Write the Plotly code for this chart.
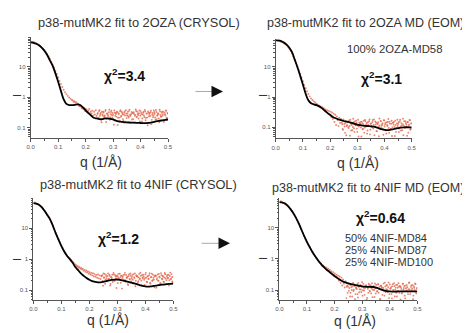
import plotly.graph_objects as go

# ---------------- data ----------------
q_data = [0.005, 0.01, 0.015, 0.02, 0.025, 0.03, 0.035, 0.04, 0.045, 0.05,
          0.055, 0.06, 0.065, 0.07, 0.075, 0.08, 0.085, 0.09, 0.095, 0.1,
          0.105, 0.11, 0.115, 0.12, 0.125, 0.13, 0.135, 0.14, 0.145, 0.15,
          0.153, 0.156, 0.159, 0.162, 0.165, 0.168, 0.171, 0.174, 0.177, 0.18,
          0.183, 0.186, 0.189, 0.192, 0.195, 0.198, 0.201, 0.204, 0.207, 0.21,
          0.213, 0.216, 0.219, 0.222, 0.225, 0.228, 0.231, 0.234, 0.237, 0.24,
          0.243, 0.246, 0.249, 0.252, 0.255, 0.258, 0.261, 0.264, 0.267, 0.27,
          0.273, 0.276, 0.279, 0.282, 0.285, 0.288, 0.291, 0.294, 0.297, 0.3,
          0.303, 0.306, 0.309, 0.312, 0.315, 0.318, 0.321, 0.324, 0.327, 0.33,
          0.333, 0.336, 0.339, 0.342, 0.345, 0.348, 0.351, 0.354, 0.357, 0.36,
          0.363, 0.366, 0.369, 0.372, 0.375, 0.378, 0.381, 0.384, 0.387, 0.39,
          0.393, 0.396, 0.399, 0.402, 0.405, 0.408, 0.411, 0.414, 0.417, 0.42,
          0.423, 0.426, 0.429, 0.432, 0.435, 0.438, 0.441, 0.444, 0.447, 0.45,
          0.453, 0.456, 0.459, 0.462, 0.465, 0.468, 0.471, 0.474, 0.477, 0.48,
          0.483, 0.486, 0.489, 0.492, 0.495, 0.498]

# second (interleaved) block of high-q measurements
q_data_b = [0.2445, 0.2475, 0.2505, 0.2535, 0.2565, 0.2595, 0.2625, 0.2655, 0.2685, 0.2715,
            0.2745, 0.2775, 0.2805, 0.2835, 0.2865, 0.2895, 0.2925, 0.2955, 0.2985, 0.3015,
            0.3045, 0.3075, 0.3105, 0.3135, 0.3165, 0.3195, 0.3225, 0.3255, 0.3285, 0.3315,
            0.3345, 0.3375, 0.3405, 0.3435, 0.3465, 0.3495, 0.3525, 0.3555, 0.3585, 0.3615,
            0.3645, 0.3675, 0.3705, 0.3735, 0.3765, 0.3795, 0.3825, 0.3855, 0.3885, 0.3915,
            0.3945, 0.3975, 0.4005, 0.4035, 0.4065, 0.4095, 0.4125, 0.4155, 0.4185, 0.4215,
            0.4245, 0.4275, 0.4305, 0.4335, 0.4365, 0.4395, 0.4425, 0.4455, 0.4485, 0.4515,
            0.4545, 0.4575, 0.4605, 0.4635, 0.4665, 0.4695, 0.4725, 0.4755, 0.4785, 0.4815,
            0.4845, 0.4875, 0.4905, 0.4935, 0.4965, 0.4995]

i_2oza_crysol = [66, 64, 62, 59, 55, 51, 47, 42, 38.5, 35, 30, 26, 21.5, 18, 14.5,
                 11.8, 9.3, 7.3, 5.7, 4.4, 3.4, 2.7, 2.15, 1.75, 1.45, 1.25, 1.1, 0.98, 0.88, 0.8,
                 0.78, 0.70, 0.74, 0.66, 0.69, 0.58, 0.62, 0.57, 0.50, 0.53, 0.49, 0.43, 0.47, 0.40, 0.44,
                 0.35, 0.41, 0.39, 0.33, 0.36, 0.41, 0.30, 0.34, 0.29, 0.36, 0.25, 0.33, 0.27, 0.37, 0.24,
                 0.28, 0.20, 0.35, 0.245, 0.305, 0.15, 0.27, 0.33, 0.22, 0.25,
                 0.38, 0.19, 0.29, 0.24, 0.32, 0.18, 0.275, 0.36, 0.215, 0.26,
                 0.125, 0.31, 0.30, 0.23, 0.335, 0.21, 0.28, 0.17, 0.37, 0.245,
                 0.305, 0.19, 0.27, 0.34, 0.155, 0.29, 0.25, 0.33, 0.215, 0.39,
                 0.24, 0.275, 0.185, 0.30, 0.32, 0.14, 0.26, 0.35, 0.23, 0.28,
                 0.20, 0.365, 0.245, 0.305, 0.16, 0.27, 0.33, 0.22, 0.335, 0.21,
                 0.29, 0.12, 0.31, 0.275, 0.24, 0.36, 0.18, 0.30, 0.25, 0.32,
                 0.215, 0.38, 0.19, 0.26, 0.28, 0.15, 0.34, 0.23, 0.305, 0.245,
                 0.33, 0.17, 0.275, 0.365, 0.21, 0.30]
i_2oza_crysol_b = [0.303, 0.213, 0.37, 0.28, 0.175, 0.333, 0.25, 0.31, 0.235, 0.348,
                   0.153, 0.288, 0.265, 0.198, 0.385, 0.22, 0.325, 0.258, 0.303, 0.183,
                   0.363, 0.243, 0.28, 0.318, 0.123, 0.295, 0.213, 0.34, 0.228, 0.333,
                   0.273, 0.168, 0.31, 0.25, 0.37, 0.205, 0.288, 0.235, 0.355, 0.265,
                   0.145, 0.325, 0.303, 0.19, 0.28, 0.243, 0.393, 0.22, 0.333, 0.258,
                   0.295, 0.16, 0.348, 0.273, 0.198, 0.31, 0.25, 0.378, 0.175, 0.288,
                   0.213, 0.34, 0.235, 0.303, 0.318, 0.13, 0.265, 0.22, 0.363, 0.28,
                   0.183, 0.325, 0.243, 0.295, 0.198, 0.385, 0.258, 0.228, 0.333, 0.273,
                   0.153, 0.31, 0.25, 0.355, 0.205, 0.288]

i_2oza_eom = [72, 71, 69, 66, 63, 59, 55, 50, 45, 39, 33, 27, 21.5, 17, 13,
              10, 7.6, 5.8, 4.4, 3.3, 2.5, 1.95, 1.55, 1.25, 1.05, 0.9, 0.8, 0.72, 0.66, 0.6,
              0.56, 0.50, 0.53, 0.47, 0.49, 0.43, 0.46, 0.40, 0.43, 0.36, 0.39, 0.33, 0.37, 0.29, 0.35,
              0.26, 0.33, 0.22, 0.31, 0.19, 0.28, 0.15, 0.26, 0.12, 0.23, 0.17, 0.11, 0.21, 0.14, 0.19,
              0.143, 0.089, 0.183, 0.129, 0.066, 0.161, 0.111, 0.147, 0.102, 0.17,
              0.053, 0.134, 0.12, 0.08, 0.192, 0.093, 0.156, 0.116, 0.143, 0.071,
              0.179, 0.107, 0.129, 0.152, 0.05, 0.138, 0.089, 0.165, 0.098, 0.161,
              0.125, 0.062, 0.147, 0.111, 0.183, 0.084, 0.134, 0.102, 0.174, 0.12,
              0.055, 0.156, 0.143, 0.075, 0.129, 0.107, 0.197, 0.093, 0.161, 0.116,
              0.138, 0.057, 0.17, 0.125, 0.08, 0.147, 0.111, 0.188, 0.066, 0.134,
              0.089, 0.165, 0.102, 0.143, 0.152, 0.052, 0.12, 0.093, 0.179, 0.129,
              0.071, 0.156, 0.107, 0.138, 0.08, 0.192, 0.116, 0.098, 0.161, 0.125,
              0.053, 0.147, 0.111, 0.174, 0.084, 0.134]
i_2oza_eom_b = [0.127, 0.083, 0.163, 0.107, 0.139, 0.055, 0.119, 0.151, 0.095, 0.111,
                0.179, 0.079, 0.131, 0.103, 0.147, 0.071, 0.123, 0.167, 0.091, 0.115,
                0.05, 0.143, 0.135, 0.099, 0.155, 0.087, 0.127, 0.067, 0.175, 0.107,
                0.139, 0.079, 0.119, 0.159, 0.059, 0.131, 0.111, 0.151, 0.091, 0.183,
                0.103, 0.123, 0.075, 0.135, 0.147, 0.051, 0.115, 0.163, 0.099, 0.127,
                0.083, 0.171, 0.107, 0.139, 0.063, 0.119, 0.151, 0.095, 0.155, 0.087,
                0.131, 0.052, 0.143, 0.123, 0.103, 0.167, 0.071, 0.135, 0.111, 0.147,
                0.091, 0.179, 0.079, 0.115, 0.127, 0.055, 0.159, 0.099, 0.139, 0.107,
                0.151, 0.067, 0.123, 0.171, 0.087, 0.135]

i_4nif_crysol = [68, 64, 61, 57, 53, 48, 42, 37, 32, 27, 23, 19, 15.5, 12.2, 9.4,
                 7.1, 5.6, 4.4, 3.5, 2.8, 2.25, 1.85, 1.55, 1.35, 1.18, 1.05, 0.95, 0.85, 0.76, 0.68,
                 0.64, 0.57, 0.60, 0.53, 0.56, 0.49, 0.52, 0.46, 0.49, 0.42, 0.45, 0.39, 0.43, 0.37, 0.40,
                 0.34, 0.38, 0.32, 0.36, 0.30, 0.35, 0.28, 0.33, 0.27, 0.31, 0.25, 0.32, 0.24, 0.30, 0.23,
                 0.285, 0.306, 0.138, 0.25, 0.334, 0.222, 0.271, 0.194, 0.348, 0.236,
                 0.292, 0.159, 0.257, 0.313, 0.215, 0.32, 0.201, 0.278, 0.117, 0.299,
                 0.264, 0.229, 0.341, 0.173, 0.285, 0.243, 0.306, 0.208, 0.362, 0.187,
                 0.25, 0.271, 0.145, 0.327, 0.222, 0.292, 0.236, 0.313, 0.166, 0.264,
                 0.348, 0.201, 0.285, 0.271, 0.194, 0.334, 0.236, 0.292, 0.145, 0.257,
                 0.313, 0.215, 0.243, 0.362, 0.187, 0.278, 0.229, 0.306, 0.173, 0.264,
                 0.341, 0.208, 0.25, 0.124, 0.299, 0.285, 0.222, 0.32, 0.201, 0.271,
                 0.166, 0.355, 0.236, 0.292, 0.187, 0.257, 0.327, 0.152, 0.278, 0.243,
                 0.313, 0.208, 0.369, 0.229, 0.264, 0.18]
i_4nif_crysol_b = [0.28, 0.196, 0.343, 0.259, 0.161, 0.308, 0.231, 0.287, 0.217, 0.322,
                   0.14, 0.266, 0.245, 0.182, 0.357, 0.203, 0.301, 0.238, 0.28, 0.168,
                   0.336, 0.224, 0.259, 0.294, 0.112, 0.273, 0.196, 0.315, 0.21, 0.308,
                   0.252, 0.154, 0.287, 0.231, 0.343, 0.189, 0.266, 0.217, 0.329, 0.245,
                   0.133, 0.301, 0.28, 0.175, 0.259, 0.224, 0.364, 0.203, 0.308, 0.238,
                   0.273, 0.147, 0.322, 0.252, 0.182, 0.287, 0.231, 0.35, 0.161, 0.266,
                   0.196, 0.315, 0.217, 0.28, 0.294, 0.119, 0.245, 0.203, 0.336, 0.259,
                   0.168, 0.301, 0.224, 0.273, 0.182, 0.357, 0.238, 0.21, 0.308, 0.252,
                   0.14, 0.287, 0.231, 0.329, 0.189, 0.266]

i_4nif_eom = [70, 65, 62, 58, 54, 50, 45, 40, 35, 30, 25.5, 21, 17.2, 13.8, 11,
              8.7, 6.8, 5.4, 4.3, 3.5, 2.9, 2.4, 2.0, 1.68, 1.42, 1.22, 1.05, 0.92, 0.81, 0.72,
              0.64, 0.58, 0.61, 0.54, 0.56, 0.49, 0.52, 0.45, 0.48, 0.41, 0.44, 0.37, 0.40, 0.33, 0.37,
              0.30, 0.34, 0.26, 0.31, 0.24, 0.29, 0.20, 0.27, 0.17, 0.25, 0.14, 0.22, 0.16, 0.12, 0.19,
              0.055, 0.138, 0.13, 0.094, 0.15, 0.082, 0.122, 0.062, 0.17, 0.102,
              0.134, 0.074, 0.114, 0.154, 0.058, 0.126, 0.106, 0.146, 0.086, 0.178,
              0.098, 0.118, 0.07, 0.13, 0.142, 0.056, 0.11, 0.158, 0.094, 0.122,
              0.078, 0.166, 0.102, 0.134, 0.06, 0.114, 0.146, 0.09, 0.15, 0.082,
              0.126, 0.052, 0.138, 0.118, 0.098, 0.162, 0.066, 0.13, 0.106, 0.142,
              0.086, 0.174, 0.074, 0.11, 0.122, 0.054, 0.154, 0.094, 0.134, 0.102,
              0.146, 0.062, 0.118, 0.166, 0.082, 0.13, 0.122, 0.078, 0.158, 0.102,
              0.134, 0.054, 0.114, 0.146, 0.09, 0.106, 0.174, 0.074, 0.126, 0.098,
              0.142, 0.066, 0.118, 0.162, 0.086, 0.11]
i_4nif_eom_b = [0.127, 0.081, 0.161, 0.116, 0.062, 0.142, 0.1, 0.131, 0.093, 0.15,
                0.051, 0.119, 0.108, 0.074, 0.169, 0.085, 0.138, 0.104, 0.127, 0.066,
                0.157, 0.097, 0.116, 0.135, 0.05, 0.123, 0.081, 0.146, 0.089, 0.142,
                0.112, 0.059, 0.131, 0.1, 0.161, 0.078, 0.119, 0.093, 0.154, 0.108,
                0.05, 0.138, 0.127, 0.07, 0.116, 0.097, 0.173, 0.085, 0.142, 0.104,
                0.123, 0.055, 0.15, 0.112, 0.074, 0.131, 0.1, 0.165, 0.062, 0.119,
                0.081, 0.146, 0.093, 0.127, 0.135, 0.05, 0.108, 0.085, 0.157, 0.116,
                0.066, 0.138, 0.097, 0.123, 0.074, 0.169, 0.104, 0.089, 0.142, 0.112,
                0.051, 0.131, 0.1, 0.154, 0.078, 0.119]

q_fit = [0.0, 0.01, 0.02, 0.03, 0.04, 0.05, 0.06, 0.07, 0.08, 0.09,
         0.1, 0.11, 0.12, 0.13, 0.14, 0.15, 0.16, 0.17, 0.18, 0.19,
         0.2, 0.21, 0.22, 0.23, 0.24, 0.25, 0.26, 0.27, 0.28, 0.29,
         0.3, 0.31, 0.32, 0.33, 0.34, 0.35, 0.36, 0.37, 0.38, 0.39,
         0.4, 0.41, 0.42, 0.43, 0.44, 0.45, 0.46, 0.47, 0.48, 0.49, 0.5]

fit_2oza_crysol = [62, 60, 56, 50, 42, 33, 24, 16, 10.5, 6,
                   3.2, 1.6, 0.85, 0.6, 0.55, 0.55, 0.56, 0.58, 0.55, 0.46,
                   0.37, 0.3, 0.25, 0.21, 0.2, 0.19, 0.19, 0.2, 0.2, 0.195,
                   0.185, 0.17, 0.16, 0.155, 0.15, 0.148, 0.147, 0.146, 0.145, 0.143,
                   0.142, 0.14, 0.14, 0.142, 0.148, 0.155, 0.162, 0.168, 0.174, 0.18, 0.185]

fit_2oza_eom = [75, 73, 69, 62, 53, 42, 30, 17, 9.5, 5,
                2.6, 1.3, 0.78, 0.62, 0.57, 0.54, 0.49, 0.43, 0.36, 0.3,
                0.26, 0.22, 0.2, 0.185, 0.172, 0.162, 0.155, 0.148, 0.14, 0.13,
                0.123, 0.118, 0.114, 0.112, 0.11, 0.108, 0.105, 0.1, 0.093, 0.087,
                0.083, 0.081, 0.082, 0.086, 0.091, 0.095, 0.098, 0.1, 0.101, 0.1, 0.099]

fit_4nif_crysol = [65, 63, 58, 48, 37, 27, 19.5, 12, 7, 4.3,
                   2.7, 1.8, 1.3, 1.02, 0.78, 0.56, 0.44, 0.35, 0.29, 0.245,
                   0.215, 0.195, 0.185, 0.178, 0.178, 0.185, 0.196, 0.205, 0.213, 0.218,
                   0.22, 0.215, 0.205, 0.195, 0.185, 0.175, 0.165, 0.155, 0.145, 0.137,
                   0.132, 0.13, 0.132, 0.136, 0.14, 0.145, 0.15, 0.154, 0.157, 0.16, 0.162]

fit_4nif_eom = [66, 64, 60, 51, 40, 30, 21, 14, 8.7, 5.4,
                3.5, 2.4, 1.65, 1.2, 0.9, 0.7, 0.56, 0.46, 0.39, 0.33,
                0.28, 0.245, 0.215, 0.19, 0.175, 0.163, 0.155, 0.148, 0.142, 0.136,
                0.131, 0.128, 0.127, 0.127, 0.125, 0.12, 0.112, 0.103, 0.096, 0.092,
                0.09, 0.089, 0.089, 0.09, 0.091, 0.091, 0.091, 0.09, 0.09, 0.09, 0.09]

titles = ["p38-mutMK2 fit to 2OZA (CRYSOL)", "p38-mutMK2 fit to 2OZA MD (EOM)",
          "p38-mutMK2 fit to 4NIF (CRYSOL)", "p38-mutMK2 fit to 4NIF MD (EOM)"]
chi2_labels = ["3.4", "3.1", "1.2", "0.64"]
x_ticks = [0.0, 0.1, 0.2, 0.3, 0.4, 0.5]
x_ticktext = ["0.0", "0.1", "0.2", "0.3", "0.4", "0.5"]
y_ticks = [0.1, 1, 10]
y_ticktext = ["0.1", "1", "10"]
y_minor_ticks = [0.05, 0.06, 0.07, 0.08, 0.09, 0.2, 0.3, 0.4, 0.5, 0.6, 0.7, 0.8, 0.9,
                 2, 3, 4, 5, 6, 7, 8, 9, 20, 30, 40, 50, 60, 70, 80, 90]

# ---------------- layout helpers ----------------
# the page body has an 8px default margin, so the figure is drawn 8px in
OFF = 8
W, H = 470 - OFF, 333 - OFF
def fx(p): return (p - OFF) / W
def fy(p): return 1 - (p - OFF) / H

# page-pixel boxes of plot areas: (left, right, top, bottom), y log range
panels = [
    dict(box=(30.7, 168.0, 36.7, 138.0), yr=[-1.34, 1.98], title=(138.5, 22.7, "center", 12.8),
         chi_xy=(124, 75), ylab=(9, 96, "left"), xlab=(101, 161.5)),
    dict(box=(275.7, 411.7, 39.3, 138.3), yr=[-1.36, 1.90], title=(466, 22.7, "right", 12.5),
         chi_xy=(381, 78.5), ylab=(263, 96, "center"), xlab=(358, 162.5)),
    dict(box=(33.3, 173.3, 198.3, 300.0), yr=[-1.32, 1.97], title=(138.5, 184.3, "center", 12.8),
         chi_xy=(118.5, 238), ylab=(9, 260, "left"), xlab=(108, 320)),
    dict(box=(279.3, 417.3, 198.3, 300.0), yr=[-1.32, 1.94], title=(466, 187.7, "right", 12.5),
         chi_xy=(380.5, 216.5), ylab=(263, 259, "center"), xlab=(355, 321)),
]
data_sets = [i_2oza_crysol, i_2oza_eom, i_4nif_crysol, i_4nif_eom]
data_sets_b = [i_2oza_crysol_b, i_2oza_eom_b, i_4nif_crysol_b, i_4nif_eom_b]
fit_sets = [fit_2oza_crysol, fit_2oza_eom, fit_4nif_crysol, fit_4nif_eom]

FONT = "Liberation Sans, Arial, sans-serif"
AX = "#555"
fig = go.Figure()
layout = dict(width=W, height=H, margin=dict(l=0, r=0, t=0, b=0),
              paper_bgcolor="white", plot_bgcolor="white", showlegend=False,
              font=dict(family=FONT))
annotations = []
marker_style = dict(size=1.9, color="#e2664a", opacity=0.8)

for k, p in enumerate(panels):
    s = "" if k == 0 else str(k + 1)
    l, r, t, b = p["box"]
    layout["xaxis" + s] = dict(
        domain=[fx(l), fx(r)], range=[0, 0.5], anchor="y" + s,
        tickvals=x_ticks, ticktext=x_ticktext, showline=True, linecolor=AX,
        linewidth=1, ticks="outside", ticklen=3, tickcolor=AX,
        tickfont=dict(size=6, color="#555"), showgrid=False, zeroline=False,
        automargin=False,
        minor=dict(dtick=0.05, tick0=0, ticks="outside", ticklen=2, tickcolor=AX))
    layout["yaxis" + s] = dict(
        domain=[fy(b), fy(t)], type="log", range=p["yr"], anchor="x" + s,
        tickvals=y_ticks, ticktext=y_ticktext, showline=True, linecolor=AX,
        linewidth=1, ticks="outside", ticklen=3, tickcolor=AX,
        tickfont=dict(size=6, color="#555"), showgrid=False, zeroline=False,
        automargin=False,
        minor=dict(tickmode="array", tickvals=y_minor_ticks, ticks="outside",
                   ticklen=1.5, tickcolor=AX))
    fig.add_trace(go.Scatter(x=q_data, y=data_sets[k], mode="markers", marker=marker_style,
                             xaxis="x" + s, yaxis="y" + s))
    fig.add_trace(go.Scatter(x=q_data_b, y=data_sets_b[k], mode="markers", marker=marker_style,
                             xaxis="x" + s, yaxis="y" + s))
    fig.add_trace(go.Scatter(x=q_fit, y=fit_sets[k], mode="lines", line_shape="spline",
                             line=dict(color="black", width=1.8),
                             xaxis="x" + s, yaxis="y" + s))
    tx, ty, ta, tsz = p["title"]
    annotations.append(dict(x=fx(tx), y=fy(ty), xref="paper", yref="paper", text=titles[k],
                            showarrow=False, xanchor=ta, yanchor="middle",
                            font=dict(size=tsz, color="#333", family=FONT)))
    cx, cy = p["chi_xy"]
    annotations.append(dict(x=fx(cx), y=fy(cy), xref="paper", yref="paper",
                            text="<b>χ<sup>2</sup>=" + chi2_labels[k] + "</b>",
                            showarrow=False, xanchor="center", yanchor="middle",
                            font=dict(size=14, color="#111", family=FONT)))
    yx, yy, ya = p["ylab"]
    annotations.append(dict(x=fx(yx), y=fy(yy), xref="paper", yref="paper", text="I",
                            textangle=-90, showarrow=False, xanchor=ya, yanchor="middle",
                            font=dict(size=11, color="#333", family=FONT)))
    xx, xy = p["xlab"]
    annotations.append(dict(x=fx(xx), y=fy(xy), xref="paper", yref="paper", text="q (1/Å)",
                            showarrow=False, xanchor="center", yanchor="middle",
                            font=dict(size=14, color="#333", family=FONT)))

# ensemble composition labels
annotations.append(dict(x=fx(394.5), y=fy(49.3), xref="paper", yref="paper",
                        text="100% 2OZA-MD58", showarrow=False, xanchor="center",
                        yanchor="middle", font=dict(size=11.3, color="#333", family=FONT)))
for txt, yy in [("50% 4NIF-MD84", 237.5), ("25% 4NIF-MD87", 249.5), ("25% 4NIF-MD100", 261.5)]:
    annotations.append(dict(x=fx(342.5), y=fy(yy), xref="paper", yref="paper", text=txt,
                            showarrow=False, xanchor="left", yanchor="middle",
                            font=dict(size=11, color="#333", family=FONT)))

# arrows: light grey shaft with a black head
for (x0, x1, yy) in [(194, 223, 91.5), (200, 230, 243.3)]:
    annotations.append(dict(x=fx(x1 - 8), y=fy(yy), xref="paper", yref="paper",
                            ax=x0 - (x1 - 8), ay=0, axref="pixel", ayref="pixel", text="",
                            showarrow=True, arrowhead=0, arrowwidth=1, arrowcolor="#aaa"))
    annotations.append(dict(x=fx(x1), y=fy(yy), xref="paper", yref="paper",
                            ax=-9, ay=0, axref="pixel", ayref="pixel", text="",
                            showarrow=True, arrowhead=2, arrowsize=2.3, arrowwidth=1,
                            arrowcolor="#111"))

layout["annotations"] = annotations
fig.update_layout(**layout)
fig.write_html("out.html")
